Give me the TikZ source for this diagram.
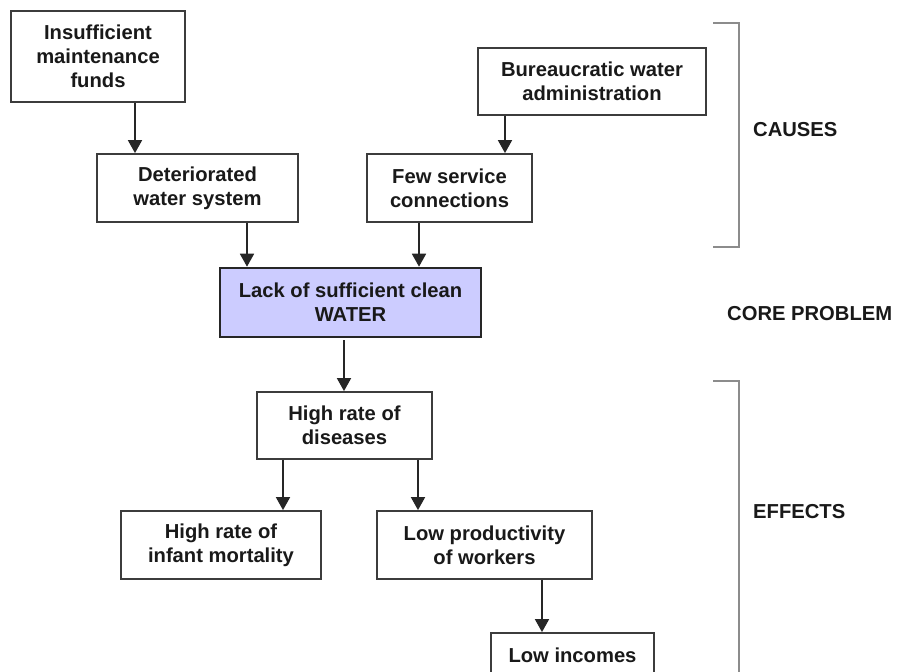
\documentclass[tikz,border=0pt]{standalone}
\usepackage{fontspec}
\setmainfont{Liberation Sans}
\usetikzlibrary{arrows.meta}
\definecolor{corefill}{RGB}{204,204,255}
\definecolor{linegray}{RGB}{60,60,60}
\definecolor{brgray}{RGB}{140,140,140}
\tikzset{
  box/.style={draw=linegray, line width=1.8pt, fill=white, rectangle, inner sep=0pt, align=center,
    font=\fontsize{20.2}{24}\selectfont\bfseries, text=black!90},
  corebox/.style={box, draw=black!85, line width=2.6pt, fill=corefill},
  arr/.style={draw=black!85, line width=1.8pt, -{Triangle[width=14pt,length=13pt]}},
  bracket/.style={draw=brgray, line width=2pt},
  lbl/.style={anchor=west, inner sep=0pt, font=\fontsize{20.2}{24}\selectfont\bfseries, text=black!90}
}
\begin{document}
\begin{tikzpicture}[x=1pt,y=-1pt]
\useasboundingbox (0,0) rectangle (898,672);
\fill[white] (0,0) rectangle (898,672);
\node[box, minimum width=174pt, minimum height=91pt] (b1) at (98,56.5) {Insufficient\\maintenance\\funds};
\node[box, minimum width=228pt, minimum height=67pt] (b4) at (592,81.5) {Bureaucratic water\\administration};
\node[box, minimum width=201pt, minimum height=68pt] (b2) at (197.5,188) {Deteriorated\\water system};
\node[box, minimum width=165pt, minimum height=68pt] (b3) at (449.5,188) {Few service\\connections};
\node[corebox, minimum width=261pt, minimum height=69pt] (core) at (350.5,302.5) {Lack of sufficient clean\\WATER};
\node[box, minimum width=175pt, minimum height=67pt] (dis) at (344.5,425.5) {High rate of\\diseases};
\node[box, minimum width=200pt, minimum height=68pt] (inf) at (221,545) {High rate of\\infant mortality};
\node[box, minimum width=215pt, minimum height=68pt] (prod) at (484.5,545) {Low productivity\\of workers};
\node[box, minimum width=163pt, minimum height=68pt] (inc) at (572.5,667) {Low incomes\\\mbox{}};

\draw[arr] ([xshift=37pt]b1.south) -- ([xshift=37pt]b1.south |- b2.north);
\draw[arr] ([xshift=-87pt]b4.south) -- ([xshift=-87pt]b4.south |- b3.north);
\draw[arr] ([xshift=49.5pt]b2.south) -- ([xshift=49.5pt]b2.south |- core.north);
\draw[arr] ([xshift=-30.5pt]b3.south) -- ([xshift=-30.5pt]b3.south |- core.north);
\draw[arr] ([xshift=-6.5pt,yshift=-2pt]core.south) -- ([xshift=-6.5pt]core.south |- dis.north);
\draw[arr] ([xshift=-61.5pt]dis.south) -- ([xshift=-61.5pt]dis.south |- inf.north);
\draw[arr] ([xshift=73.5pt]dis.south) -- ([xshift=73.5pt]dis.south |- prod.north);
\draw[arr] ([xshift=57.5pt]prod.south) -- ([xshift=57.5pt]prod.south |- inc.north);

\draw[bracket] (713,23) -- (739,23) -- (739,247) -- (713,247);
\draw[bracket] (713,381) -- (739,381) -- (739,700);

\node[lbl] (causes) at (753,130) {CAUSES};
\node[lbl] (coreprob) at (727,314) {CORE PROBLEM};
\node[lbl] (effects) at (753,512) {EFFECTS};
\end{tikzpicture}
\end{document}
